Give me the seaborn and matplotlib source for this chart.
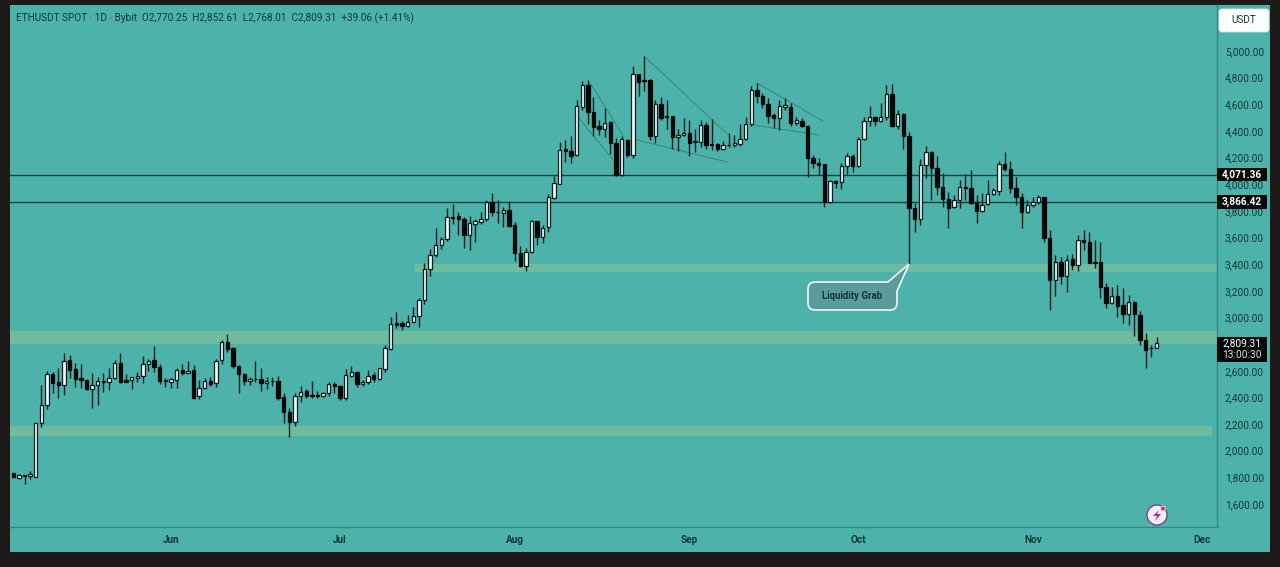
import pandas as pd
import numpy as np
import matplotlib
matplotlib.use('Agg')
import matplotlib.pyplot as plt
import seaborn as sns
from matplotlib.patches import Rectangle, Circle, Polygon, FancyBboxPatch, PathPatch
from matplotlib.path import Path
from matplotlib.transforms import Affine2D

# daily candles, first one is 4 May
opens = [1831,1796,1814,1811,1806,2206,2341,2576,2516,2491,
         2678,2611,2546,2534,2466,2491,2526,2516,2543,2661,
         2531,2528,2548,2558,2653,2678,2631,2531,2518,2533,
         2603,2583,2603,2408,2468,2526,2506,2678,2813,2768,
         2638,2576,2526,2541,2538,2506,2526,2521,2401,2288,
         2218,2407,2447,2419,2419,2412,2432,2502,2482,2399,
         2564,2589,2499,2514,2569,2537,2612,2764,2957,2957,
         2939,2964,3012,3132,3362,3467,3542,3587,3757,3762,
         3742,3622,3702,3719,3737,3864,3794,3787,3807,3694,
         3482,3389,3492,3722,3607,3677,3900,4004,4262,4252,
         4217,4582,4747,4544,4434,4417,4467,4312,4067,4334,
         4219,4824,4782,4782,4364,4599,4514,4509,4352,4367,
         4387,4317,4319,4444,4299,4299,4267,4297,4297,4302,
         4342,4452,4707,4662,4602,4517,4494,4582,4582,4462,
         4477,4437,4194,4157,4149,3869,4027,4014,4137,4212,
         4137,4342,4477,4507,4477,4507,4677,4439,4527,4364,
         3819,3739,4147,4239,4119,3977,3887,3827,3882,3977,
         3972,3869,3802,3849,3927,3952,4152,4117,3972,3902,
         3794,3842,3864,3907,3594,3282,3419,3312,3437,3394,
         3582,3569,3417,3414,3227,3107,3164,3092,3024,3119,
         3019,2832,2769,2770.25]
highs = [1836,1823,1818,1844,2211,2494,2601,2594,2624,2736,
         2718,2656,2651,2539,2581,2551,2581,2618,2681,2731,
         2576,2556,2593,2711,2686,2786,2648,2543,2548,2618,
         2651,2676,2643,2531,2543,2556,2686,2831,2876,2781,
         2643,2581,2551,2676,2618,2556,2551,2561,2436,2318,
         2431,2482,2462,2524,2449,2444,2519,2519,2494,2612,
         2632,2599,2532,2602,2594,2624,2794,3000,3042,2977,
         3019,3082,3149,3412,3512,3674,3607,3819,3852,3789,
         3757,3762,3737,3789,3882,3937,3882,3827,3877,3719,
         3537,3519,3732,3727,3694,3927,4062,4319,4332,4362,
         4632,4777,4782,4657,4482,4569,4477,4344,4362,4337,
         4887,4827,4962,4787,4632,4657,4632,4512,4412,4494,
         4482,4412,4482,4469,4487,4307,4327,4382,4369,4452,
         4507,4737,4762,4687,4644,4532,4632,4644,4612,4507,
         4494,4444,4219,4194,4152,4032,4032,4157,4232,4227,
         4352,4502,4587,4512,4612,4744,4752,4557,4532,4394,
         3862,4187,4287,4252,4212,4082,3944,3919,4032,4077,
         4107,3919,3937,4032,3969,4174,4244,4174,4057,3932,
         3882,3907,3919,3907,3657,3469,3452,3469,3477,3619,
         3657,3644,3582,3569,3257,3227,3244,3219,3169,3127,
         3052,2882,2794,2852.61]
lows = [1798,1784,1748,1788,1804,2181,2314,2431,2398,2418,
        2544,2481,2468,2456,2323,2344,2443,2456,2536,2506,
        2513,2461,2518,2511,2601,2593,2501,2476,2468,2468,
        2568,2581,2386,2386,2461,2486,2476,2648,2743,2618,
        2436,2493,2493,2518,2448,2461,2486,2381,2206,2106,
        2186,2369,2394,2394,2394,2402,2412,2432,2382,2382,
        2552,2477,2487,2502,2512,2527,2587,2752,2924,2902,
        2932,2957,2932,3102,3312,3457,3512,3577,3702,3619,
        3524,3507,3569,3702,3727,3762,3712,3677,3682,3427,
        3377,3352,3487,3544,3562,3644,3887,3999,4169,4162,
        4212,4557,4452,4362,4369,4352,4227,4062,4062,4207,
        4194,4662,4702,4332,4307,4482,4412,4262,4252,4362,
        4212,4244,4282,4262,4257,4249,4257,4277,4277,4287,
        4332,4437,4607,4569,4462,4419,4407,4557,4437,4447,
        4427,4052,4119,4069,3827,3862,3969,3964,4077,4094,
        4127,4332,4437,4437,4469,4482,4427,4412,4262,3402,
        3639,3694,4044,3882,3919,3827,3674,3819,3819,3882,
        3852,3707,3794,3844,3919,3919,4102,3937,3844,3674,
        3787,3832,3852,3569,3057,3164,3252,3194,3357,3352,
        3507,3407,3369,3144,3069,3102,3002,2957,2944,2864,
        2794,2624,2702,2768.01]
closes = [1804,1816,1811,1824,2206,2344,2576,2511,2491,2676,
          2606,2541,2531,2466,2491,2524,2518,2543,2658,2518,
          2518,2551,2558,2653,2676,2626,2523,2526,2536,2603,
          2581,2601,2398,2468,2523,2503,2676,2816,2763,2638,
          2573,2526,2541,2536,2506,2526,2521,2393,2288,2218,
          2408,2444,2407,2412,2407,2432,2499,2482,2394,2567,
          2587,2502,2519,2564,2537,2617,2769,2949,2942,2937,
          2969,3012,3132,3364,3472,3542,3587,3752,3747,3737,
          3619,3707,3722,3737,3869,3794,3789,3807,3689,3482,
          3387,3494,3722,3607,3674,3902,4007,4257,4249,4214,
          4587,4744,4544,4432,4417,4462,4307,4067,4337,4219,
          4824,4769,4777,4364,4599,4494,4507,4352,4369,4387,
          4312,4327,4444,4294,4294,4262,4297,4292,4307,4342,
          4454,4707,4662,4599,4514,4494,4587,4594,4462,4479,
          4434,4194,4157,4144,3869,4024,4012,4137,4212,4137,
          4342,4477,4507,4477,4507,4677,4437,4527,4364,3819,
          3739,4144,4239,4119,3977,3887,3822,3882,3977,3972,
          3862,3802,3844,3927,3957,4152,4112,3969,3902,3794,
          3842,3869,3907,3594,3282,3419,3312,3432,3392,3582,
          3564,3412,3409,3227,3107,3164,3089,3024,3119,3024,
          2827,2757,2774,2809.31]

month_days = [28, 58, 89, 120, 150, 181, 211]
month_labels = ['Jun', 'Jul', 'Aug', 'Sep', 'Oct', 'Nov', 'Dec']
price_ticks = [1600, 1800, 2000, 2200, 2400, 2600, 2800, 3000, 3200, 3400,
               3600, 3800, 4000, 4200, 4400, 4600, 4800, 5000]
level_prices = [4071.36, 3866.42]
# zones: low, high, first day, last day
zone_lows = [2803, 2110, 3341]
zone_highs = [2895, 2185, 3401]
zone_starts = [-0.67, -0.67, 71.3]
zone_ends = [213.6, 212.8, 213.6]
# wedges drawn by hand on the chart: day, price, day, price
wedge_lines = [(102.4, 4760, 108.2, 4370), (100.4, 4497, 106.5, 4182),
               (112.0, 4962, 126.9, 4370), (110.7, 4332, 126.7, 4167),
               (132.0, 4760, 143.7, 4475), (131.3, 4445, 143.0, 4370)]
header = 'ETHUSDT SPOT · 1D · Bybit  O2,770.25  H2,852.61  L2,768.01  C2,809.31  +39.06 (+1.41%)'

DARK = '#1e1a1a'
TEAL = '#4db3aa'
ZONE = '#6fbd9f'
INK = '#10373a'
LINE = '#0c3f42'
W, H = 1280, 567

sns.set_theme(style='white')
plt.rcParams['font.family'] = ['Roboto', 'DejaVu Sans']

df = pd.DataFrame({'day': np.arange(len(opens)), 'open': opens, 'high': highs,
                   'low': lows, 'close': closes})
df['bottom'] = df[['open', 'close']].min(axis=1)
df['body'] = (df['open'] - df['close']).abs()

fig = plt.figure(figsize=(W / 100, H / 100), dpi=100, facecolor=DARK)
px = Affine2D().scale(1, -1).translate(0, H)  # picture pixels, y going down

fig.add_artist(Rectangle((9.5, 5), 1260.5, 546.5, transform=px, facecolor=TEAL,
                         edgecolor='none', zorder=-1))

left, right, top, bottom = 9.5, 1216.5, 5, 527
ax = fig.add_axes([left / W, 1 - bottom / H, (right - left) / W, (bottom - top) / H])
ax.set_facecolor('none')

for lo, hi, start, end in zip(zone_lows, zone_highs, zone_starts, zone_ends):
    ax.fill_between([start, end], lo, hi, color=ZONE, alpha=0.95, lw=0, zorder=1)

for p in level_prices:
    ax.axhline(p, color=LINE, lw=1.0, zorder=2)

for x0, y0, x1, y1 in wedge_lines:
    ax.plot([x0, x1], [y0, y1], color='#3a8a86', lw=0.8, zorder=2)

ax.vlines(df['day'], df['low'], df['high'], color='#06201f', lw=1.0, zorder=2.5)

up = df[df['close'] >= df['open']]
down = df[df['close'] < df['open']]
sns.barplot(x=up['day'].values, y=up['body'].values, bottom=up['bottom'].values,
            native_scale=True, width=0.6, color='#f6f6f4', saturation=1,
            edgecolor='#06201f', linewidth=0.9, errorbar=None, zorder=3, ax=ax)
sns.barplot(x=down['day'].values, y=down['body'].values, bottom=down['bottom'].values,
            native_scale=True, width=0.6, color='#050808', saturation=1,
            edgecolor='#050808', linewidth=0.9, errorbar=None, zorder=3, ax=ax)

ax.set_xlim(-0.67, 213.6)
ax.set_ylim(1427, 5000 + 46 * 7.506)
ax.set_xlabel('')
ax.set_ylabel('')
ax.grid(False)

ax.yaxis.tick_right()
ax.set_yticks(price_ticks)
ax.set_yticklabels([f'{v:,.2f}' for v in price_ticks], fontsize=7.3, color=INK)
ax.set_xticks(month_days)
ax.set_xticklabels(month_labels, fontsize=7.2, color=INK, fontweight='bold')
ax.tick_params(axis='y', length=0, pad=6)
ax.tick_params(axis='x', length=0, pad=6)
sns.despine(ax=ax, left=True, top=True, right=False, bottom=False)
for side in ['right', 'bottom']:
    ax.spines[side].set_color('#35868a')
    ax.spines[side].set_linewidth(1.0)

# header line
ax.text(16, 18, header, transform=px, fontsize=7.2, color=INK, va='center', ha='left')

# price tags on the scale
tags = ax.get_yaxis_transform()
for p in level_prices:
    ax.add_patch(Rectangle((1.0005, p - 49), 0.0415, 98, transform=tags, facecolor='#060808',
                           edgecolor='none', clip_on=False, zorder=5))
    ax.text(1.0212, p, f'{p:,.2f}', transform=tags, fontsize=7.3, color='white',
            fontweight='bold', ha='center', va='center', zorder=6)
last_close = closes[-1]
ax.add_patch(Rectangle((1217, 337), 50, 25, transform=px, facecolor='#060808',
                       edgecolor='none', clip_on=False, zorder=5))
ax.text(1242, 343.5, f'{last_close:,.2f}', transform=px, fontsize=7.3, color='white',
        ha='center', va='center', zorder=6)
ax.text(1242, 354.5, '13:00:30', transform=px, fontsize=7.3, color='#dddddd',
        ha='center', va='center', zorder=6)

# currency button
ax.add_patch(FancyBboxPatch((1221, 11), 46, 19, boxstyle='round,pad=2,rounding_size=3',
                            transform=px, facecolor='white', edgecolor='#d8e4e2', lw=0.6,
                            clip_on=False, zorder=5))
ax.text(1244, 20, 'USDT', transform=px, fontsize=7.2, color=INK, ha='center', va='center', zorder=6)

# callout with its tail pointing at the wick
r = 7
verts = [(808 + r, 282), (888, 282), (909, 264), (897, 291), (897, 310 - r), (897, 310), (897 - r, 310),
         (808 + r, 310), (808, 310), (808, 310 - r), (808, 282 + r), (808, 282), (808 + r, 282)]
codes = [Path.MOVETO, Path.LINETO, Path.LINETO, Path.LINETO, Path.LINETO, Path.CURVE3, Path.CURVE3,
         Path.LINETO, Path.CURVE3, Path.CURVE3, Path.LINETO, Path.CURVE3, Path.CURVE3]
ax.add_patch(PathPatch(Path(verts, codes), transform=px, facecolor='#5b9b9b', edgecolor='#eef7f5',
                       lw=1.2, clip_on=False, zorder=5))
ax.text(852.5, 296, 'Liquidity Grab', transform=px, fontsize=6.9, color=INK, fontweight='bold',
        ha='center', va='center', zorder=6)

# small lightning badge near the time scale
ax.add_patch(Circle((1157, 515), 10, transform=px, facecolor='#f3eef8', edgecolor='#7a3f96',
                    lw=1.0, clip_on=False, zorder=5))
ax.add_patch(Polygon([(1159, 510), (1153, 516), (1157, 516), (1155, 521), (1161, 514), (1157, 514)],
                     transform=px, facecolor='#b02a8f', edgecolor='none', clip_on=False, zorder=6))
ax.add_patch(Circle((1163, 508.5), 2.5, transform=px, facecolor='#e8305a', edgecolor='white',
                    lw=0.5, clip_on=False, zorder=7))

fig.savefig('out.png', dpi=100, facecolor=fig.get_facecolor())
